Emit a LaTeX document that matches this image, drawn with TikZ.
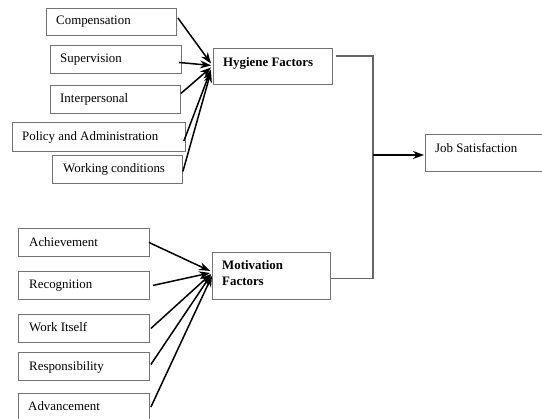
\documentclass[tikz,border=0pt]{standalone}
\usepackage{fontspec}
\setmainfont{Liberation Serif}
\usetikzlibrary{arrows.meta,calc}
\begin{document}
\begin{tikzpicture}[x=1pt,y=-1pt,
  box/.style={draw=black!55,line width=0.9pt,rectangle,inner sep=0pt,anchor=north west},
  lbl/.style={inner sep=0pt,anchor=base west,font=\fontsize{12.9}{15}\selectfont},
  blbl/.style={inner sep=0pt,anchor=base west,align=left,font=\fontsize{12.9}{15}\selectfont\bfseries},
  arr/.style={line width=1.5pt,-{Stealth[length=11pt,width=8pt]}},
  link/.style={draw=black!60,line width=1.2pt}]
\useasboundingbox (0,0) rectangle (542,419);
% left boxes (hygiene)
\node[box,minimum width=130,minimum height=27] (comp) at (46,8) {};
\node[lbl] (compT) at (56,24.5) {Compensation};
\node[box,minimum width=131,minimum height=28] (sup) at (50,45) {};
\node[lbl] (supT) at (60,63) {Supervision};
\node[box,minimum width=130,minimum height=28] (inter) at (50,85) {};
\node[lbl] (interT) at (60,102.5) {Interpersonal};
\node[box,minimum width=173,minimum height=29] (pol) at (12,122) {};
\node[lbl] (polT) at (22,140.5) {Policy and Administration};
\node[box,minimum width=130,minimum height=28] (work) at (52,155) {};
\node[lbl] (workT) at (63,172.5) {Working conditions};
% hygiene
\node[box,minimum width=119,minimum height=36] (hyg) at (213,48) {};
\node[blbl] (hygT) at (223,66.5) {Hygiene Factors};
% job satisfaction
\node[box,minimum width=125,minimum height=37] (job) at (425,134) {};
\node[lbl] (jobT) at (435,152.5) {Job Satisfaction};
% motivation
\node[box,minimum width=118,minimum height=47] (mot) at (212,252) {};
\node[blbl] (motT1) at (222,269.5) {Motivation};
\node[blbl] (motT2) at (222,285.5) {Factors};
% left boxes (motivation)
\node[box,minimum width=131,minimum height=28] (ach) at (18,228) {};
\node[lbl] (achT) at (29,246.5) {Achievement};
\node[box,minimum width=131,minimum height=28] (rec) at (18,271) {};
\node[lbl] (recT) at (29,289) {Recognition};
\node[box,minimum width=131,minimum height=28] (wit) at (18,314) {};
\node[lbl] (witT) at (29,331.5) {Work Itself};
\node[box,minimum width=131,minimum height=28] (resp) at (18,352) {};
\node[lbl] (respT) at (29,370.5) {Responsibility};
\node[box,minimum width=131,minimum height=30] (adv) at (18,393) {};
\node[lbl] (advT) at (28,410.5) {Advancement};
% arrows into hygiene
\draw[arr] ($(comp.north east)+(1,10)$) -- ($(hyg.west)+(-2,-3)$);
\draw[arr] ($(sup.east)+(-3,3)$) -- ($(hyg.west)+(-2,-1)$);
\draw[arr] ($(inter.east)+(0,-6)$) -- ($(hyg.west)+(-2,1)$);
\draw[arr] ($(pol.east)+(-2,4)$) -- ($(hyg.west)+(-2,3)$);
\draw[arr] ($(work.east)+(0,2)$) -- ($(hyg.west)+(-2,5)$);
% arrows into motivation
\draw[arr] ($(ach.east)+(-1,0)$) -- ($(mot.west)+(-2,-5)$);
\draw[arr] ($(rec.east)+(3,0)$) -- ($(mot.west)+(-2,-3)$);
\draw[arr] ($(wit.east)+(1,0)$) -- ($(mot.west)+(-1,-2)$);
\draw[arr] ($(resp.east)+(1,-2)$) -- ($(mot.west)+(-1,-1)$);
\draw[arr] ($(adv.north east)+(1,14)$) -- ($(mot.west)+(0,0)$);
% bracket
\coordinate (bx) at (373,155);
\draw[link] ($(hyg.north east)+(3,8)$) -| (bx) |- ($(mot.east)+(0,2.5)$);
\draw[arr] (bx) -- ($(job.west |- bx)+(-1,0)$);
\end{tikzpicture}
\end{document}
